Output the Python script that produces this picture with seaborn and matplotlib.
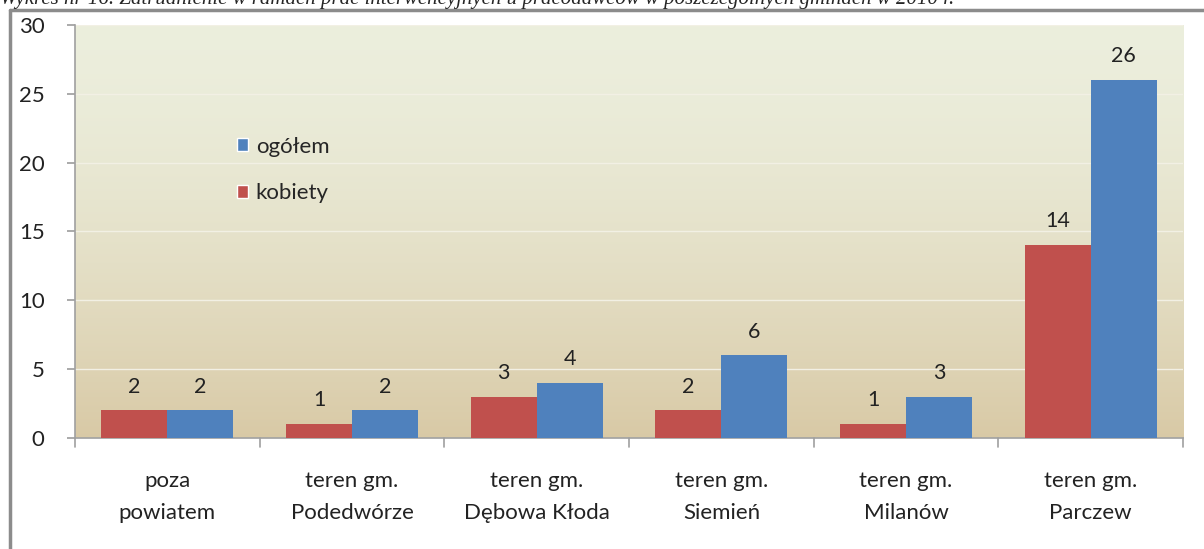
import numpy as np
import pandas as pd
import matplotlib
matplotlib.use("Agg")
import matplotlib.pyplot as plt
import seaborn as sns
from matplotlib.lines import Line2D
from matplotlib.patches import Patch

# dane
gminy = ["poza\npowiatem", "teren gm.\nPodedwórze", "teren gm.\nDębowa Kłoda",
         "teren gm.\nSiemień", "teren gm.\nMilanów", "teren gm.\nParczew"]
kobiety = [2, 1, 3, 2, 1, 14]
ogolem = [2, 2, 4, 6, 3, 26]
serie = ["kobiety", "ogółem"]
kolory = {"kobiety": "#c0504d", "ogółem": "#4f81bd"}
tytul = "Wykres nr 16. Zatrudnienie w ramach prac interwencyjnych u pracodawców w poszczególnych gminach w 2010 r."

df = pd.DataFrame({
    "gmina": gminy * 2,
    "seria": ["kobiety"] * len(gminy) + ["ogółem"] * len(gminy),
    "liczba": kobiety + ogolem,
})

sns.set_theme(style="white")
plt.rcParams['font.family'] = ['Lato', 'DejaVu Sans']

fig = plt.figure(figsize=(12.04, 5.49), dpi=100)
ax = fig.add_axes([0.0623, 0.2022, 0.9203, 0.7523])

# tlo z gradientem
grad = np.linspace(0, 1, 256).reshape(-1, 1)
top = np.array([0.925, 0.935, 0.866])
bot = np.array([0.850, 0.790, 0.650])
w = grad ** 1.6
img = top[None, None, :] * (1 - w[..., None]) + bot[None, None, :] * w[..., None]
ax.imshow(img, extent=[0, 1, 0, 1], transform=ax.transAxes, aspect="auto", zorder=0)

sns.barplot(data=df, x="gmina", y="liczba", hue="seria", hue_order=serie,
            palette=kolory, width=0.715, saturation=1, ax=ax, zorder=3,
            edgecolor="none", legend=False)

for cont in ax.containers:
    ax.bar_label(cont, padding=10, fontsize=15.5, color="#222222")

ax.set_ylim(0, 30)
ax.set_xlim(-0.5, len(gminy) - 0.5)
ax.set_yticks(range(0, 31, 5))
ax.yaxis.grid(True, color="#f2f0e4", lw=1, zorder=1)
ax.set_axisbelow(True)
ax.set_xlabel("")
ax.set_ylabel("")
ax.set_xticks(range(len(gminy)))
ax.set_xticklabels(gminy, fontsize=16, color="#222222", linespacing=1.7)
ax.tick_params(axis="x", length=0, pad=24)
ax.tick_params(axis="y", labelsize=16, labelcolor="#222222", length=6, color="#a0a0a0",
               direction="out", left=True, pad=16)
# znaczniki miedzy kategoriami
for x in np.arange(-0.5, len(gminy), 1.0):
    ax.plot([x, x], [0, -0.022], transform=ax.get_xaxis_transform(), color="#a0a0a0",
            lw=1.2, clip_on=False, zorder=5)

for s in ["top", "right"]:
    ax.spines[s].set_visible(False)
for s in ["left", "bottom"]:
    ax.spines[s].set_color("#a0a0a0")
    ax.spines[s].set_linewidth(1.2)

handles = [Patch(facecolor=kolory["ogółem"], label="ogółem"),
           Patch(facecolor=kolory["kobiety"], label="kobiety")]
ax.legend(handles=handles, loc="upper left", bbox_to_anchor=(0.128, 0.778), frameon=False,
          fontsize=16, handlelength=0.5, handleheight=0.5, handletextpad=0.35, labelspacing=1.2)

# ramka i tytul
fig.add_artist(Line2D([0.0085, 0.0085], [0, 0.981], transform=fig.transFigure, color="#8c8c8c", lw=2.5))
fig.add_artist(Line2D([0.0085, 1.0], [0.981, 0.981], transform=fig.transFigure, color="#8c8c8c", lw=2.5))
fig.text(0.0, 1 - 4 / 549, tytul, ha="left", va="baseline", fontsize=15, style="italic",
         family=["Liberation Serif", "DejaVu Serif"])

fig.savefig("out.png", dpi=100)
